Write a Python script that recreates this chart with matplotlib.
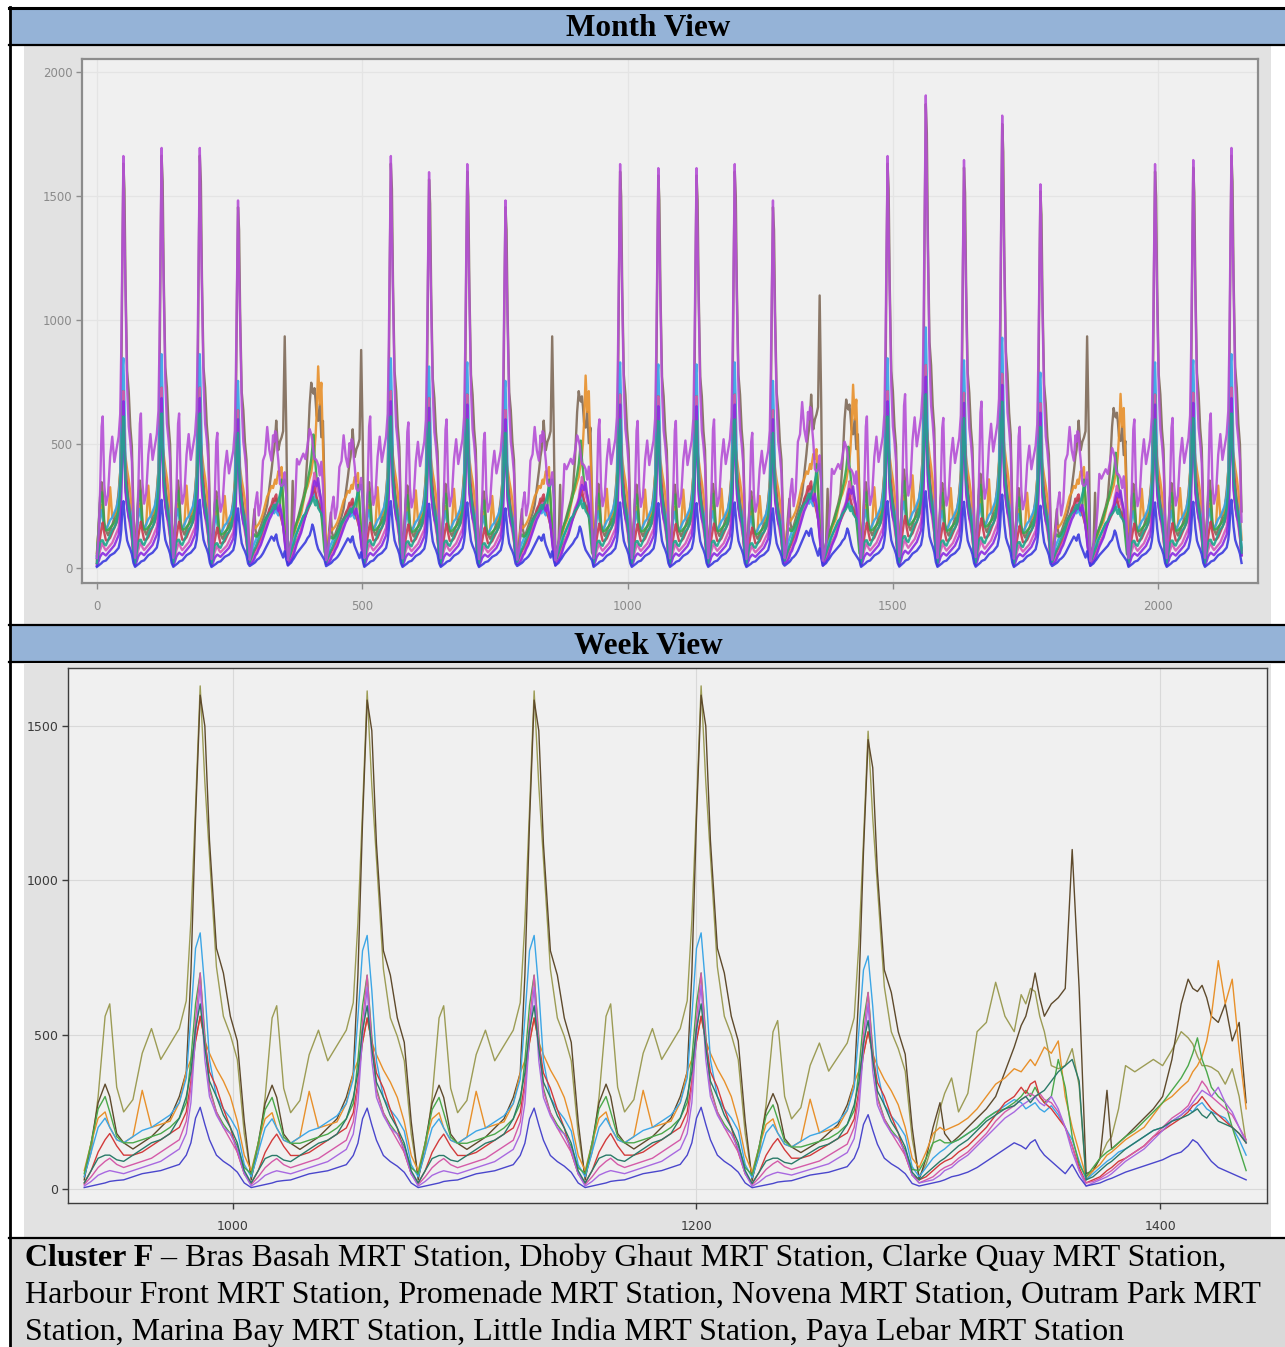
import numpy as np
import matplotlib
matplotlib.use("Agg")
import matplotlib.pyplot as plt
from matplotlib.patches import Rectangle
from matplotlib.lines import Line2D

# ---------------- data ----------------
STATIONS = ["Bras Basah", "Dhoby Ghaut", "Clarke Quay", "Harbour Front", "Promenade",
            "Novena", "Outram Park", "Marina Bay", "Little India", "Paya Lebar"]

# sample slots inside each day (72 slots of 20 minutes per day)
SLOTS = [0, 3, 6, 9, 11, 14, 17, 21, 25, 29, 33, 37, 41, 44, 46, 48, 50, 52, 54, 57, 60, 63, 66, 69]
SLOTS_PER_DAY = 72

# day kind for the 30 days (W weekday, S saturday/holiday, U sunday) and day level read from peaks
DAY_TYPE = list("WWWWSUS" + "WWWW" + "SU" + "WWWWW" + "SU" + "WWWWW" + "SU" + "WWW")
DAY_SCALE = [1.02, 1.04, 1.04, 0.91, 0.85, 1.10, 0.80, 1.02, 0.98, 1.00,
             0.91, 0.85, 1.05, 1.00, 0.99, 0.99, 1.00, 0.91, 1.00, 1.00,
             1.02, 1.17, 1.01, 1.12, 0.95, 0.85, 0.95, 1.00, 1.01, 1.04]

S1_WD = [40, 120, 300, 560, 600, 330, 250, 290, 440, 520, 420, 470, 520, 610, 870, 1240, 1630, 1320, 1080, 720, 560, 500, 420, 180]
S1_SAT = [40, 80, 150, 260, 310, 360, 250, 310, 510, 540, 670, 560, 510, 630, 600, 650, 640, 560, 510, 400, 390, 400, 455, 335]
S1_SUN = [30, 60, 100, 150, 170, 260, 400, 380, 400, 420, 400, 450, 510, 490, 470, 430, 400, 400, 395, 380, 340, 390, 300, 150]

S2_WD = [30, 150, 280, 340, 300, 180, 150, 130, 150, 170, 200, 230, 300, 380, 700, 1200, 1600, 1500, 1130, 780, 700, 560, 480, 220]
S2_SAT = [30, 100, 200, 280, 180, 150, 170, 200, 230, 260, 300, 380, 460, 530, 560, 620, 700, 620, 560, 600, 620, 650, 1100, 650]
S2_SUN = [50, 60, 100, 320, 130, 150, 170, 200, 230, 260, 300, 420, 600, 680, 650, 640, 660, 620, 560, 540, 600, 480, 540, 280]

S3_WD = [60, 150, 230, 250, 200, 160, 150, 170, 320, 200, 210, 220, 280, 380, 420, 480, 560, 480, 440, 390, 350, 300, 220, 110]
S3_SAT = [70, 120, 180, 200, 190, 200, 210, 230, 260, 300, 340, 360, 390, 380, 400, 420, 400, 430, 460, 440, 480, 300, 200, 120]
S3_SUN = [40, 60, 80, 110, 120, 140, 160, 180, 200, 240, 280, 300, 330, 350, 380, 400, 430, 480, 560, 740, 600, 680, 450, 260]

S4_WD = [40, 120, 200, 230, 200, 160, 150, 170, 190, 200, 220, 240, 280, 360, 560, 780, 830, 650, 420, 300, 260, 230, 190, 80]
S4_SAT = [40, 70, 100, 120, 130, 150, 160, 180, 200, 230, 250, 270, 290, 280, 260, 270, 280, 260, 250, 270, 240, 200, 160, 90]
S4_SUN = [30, 50, 70, 90, 100, 120, 130, 150, 170, 190, 200, 220, 240, 260, 250, 270, 280, 260, 250, 240, 230, 200, 160, 110]

S5_WD = [50, 150, 260, 300, 250, 170, 150, 150, 160, 170, 180, 200, 230, 280, 420, 600, 700, 500, 330, 250, 210, 180, 140, 70]
S5_SAT = [60, 100, 150, 160, 150, 150, 160, 180, 200, 230, 250, 260, 280, 300, 320, 300, 330, 300, 280, 300, 420, 330, 170, 80]
S5_SUN = [40, 70, 100, 120, 130, 150, 170, 190, 220, 250, 280, 320, 360, 400, 440, 490, 420, 380, 330, 300, 280, 200, 130, 60]

S6_WD = [20, 60, 120, 160, 180, 140, 110, 110, 120, 140, 160, 180, 200, 250, 350, 480, 560, 480, 380, 330, 260, 200, 120, 50]
S6_SAT = [30, 40, 60, 80, 90, 100, 120, 140, 170, 200, 240, 280, 300, 330, 310, 340, 350, 300, 280, 260, 230, 200, 140, 70]
S6_SUN = [20, 30, 40, 60, 70, 90, 100, 120, 140, 170, 190, 210, 230, 250, 270, 280, 300, 280, 260, 240, 220, 200, 180, 150]

S7_WD = [15, 40, 70, 90, 100, 80, 70, 80, 90, 100, 120, 140, 160, 220, 330, 550, 700, 480, 320, 250, 200, 160, 120, 50]
S7_SAT = [20, 30, 40, 60, 70, 80, 100, 120, 150, 180, 220, 250, 270, 290, 300, 310, 300, 310, 290, 280, 250, 200, 140, 60]
S7_SUN = [20, 25, 35, 50, 60, 80, 100, 120, 140, 170, 200, 230, 250, 270, 300, 320, 350, 330, 300, 280, 260, 240, 200, 160]

S8_WD = [10, 25, 45, 55, 60, 55, 50, 60, 70, 80, 90, 110, 130, 180, 280, 500, 660, 420, 300, 240, 200, 180, 130, 50]
S8_SAT = [20, 25, 30, 45, 60, 70, 90, 110, 140, 170, 200, 230, 250, 270, 280, 290, 300, 280, 270, 300, 260, 200, 120, 60]
S8_SUN = [10, 20, 30, 40, 50, 70, 90, 110, 130, 160, 190, 220, 240, 260, 280, 300, 320, 310, 300, 330, 280, 250, 200, 150]

S9_WD = [20, 60, 100, 110, 110, 95, 90, 110, 130, 150, 160, 180, 230, 300, 380, 520, 600, 460, 350, 300, 240, 200, 150, 60]
S9_SAT = [30, 50, 70, 90, 100, 120, 140, 160, 190, 220, 240, 260, 270, 290, 300, 280, 300, 310, 320, 350, 380, 400, 420, 350]
S9_SUN = [30, 40, 60, 80, 90, 110, 130, 150, 170, 190, 200, 220, 230, 240, 250, 260, 240, 230, 250, 220, 210, 200, 180, 150]

S10_WD = [5, 10, 15, 20, 25, 28, 30, 40, 50, 55, 60, 70, 80, 110, 150, 230, 265, 210, 160, 110, 90, 75, 55, 20]
S10_SAT = [10, 15, 20, 25, 30, 40, 45, 55, 70, 90, 110, 130, 150, 140, 130, 150, 160, 130, 110, 90, 70, 50, 80, 40]
S10_SUN = [10, 15, 20, 30, 35, 45, 55, 65, 75, 85, 95, 110, 120, 140, 160, 150, 130, 110, 90, 70, 60, 50, 40, 30]

PROFILES = [
    (S1_WD, S1_SAT, S1_SUN), (S2_WD, S2_SAT, S2_SUN), (S3_WD, S3_SAT, S3_SUN),
    (S4_WD, S4_SAT, S4_SUN), (S5_WD, S5_SAT, S5_SUN), (S6_WD, S6_SAT, S6_SUN),
    (S7_WD, S7_SAT, S7_SUN), (S8_WD, S8_SAT, S8_SUN), (S9_WD, S9_SAT, S9_SUN),
    (S10_WD, S10_SAT, S10_SUN),
]

MONTH_COLORS = ['#b54fd6', '#7f6a58', '#e8902a', '#33a4e8', '#37a64a',
                '#c83a50', '#d657b8', '#8a2be2', '#1fa58c', '#3a3adf']
WEEK_COLORS = ['#9c9c55', '#5e4a2c', '#e8902a', '#3ca6e6', '#4aa84a',
               '#d23a3a', '#d45aa8', '#a868e0', '#2a7a68', '#4a46cc']

MONTH_XTICKS = [0, 500, 1000, 1500, 2000]
MONTH_YTICKS = [0, 500, 1000, 1500, 2000]
WEEK_XTICKS = [1000, 1200, 1400]
WEEK_YTICKS = [0, 500, 1000, 1500]
WEEK_DAYS = (13, 20)

CAPTION_BOLD = "Cluster F"
CAPTION_LINES = [
    " \u2013 Bras Basah MRT Station, Dhoby Ghaut MRT Station, Clarke Quay MRT Station,",
    "Harbour Front MRT Station, Promenade MRT Station, Novena MRT Station, Outram Park MRT",
    "Station, Marina Bay MRT Station, Little India MRT Station, Paya Lebar MRT Station",
]


def build_series(profile):
    xs, ys = [], []
    slots = np.array(SLOTS)
    for d, (kind, sc) in enumerate(zip(DAY_TYPE, DAY_SCALE)):
        prof = {'W': profile[0], 'S': profile[1], 'U': profile[2]}[kind]
        xs.append(d * SLOTS_PER_DAY + slots)
        ys.append(np.array(prof, dtype=float) * sc)
    return np.concatenate(xs), np.concatenate(ys)


SERIES = [build_series(p) for p in PROFILES]

# ---------------- figure ----------------
W, H = 1285, 1347
fig = plt.figure(figsize=(W / 100, H / 100), dpi=100)
fig.patch.set_facecolor('white')


def rect(x0, y0, x1, y1, color, z=-2):
    fig.add_artist(Rectangle((x0 / W, 1 - y1 / H), (x1 - x0) / W, (y1 - y0) / H,
                             transform=fig.transFigure, facecolor=color,
                             edgecolor='none', zorder=z))


def hline(y, x0, x1, lw=1.6):
    fig.add_artist(Line2D([x0 / W, x1 / W], [1 - y / H, 1 - y / H], color='black',
                          lw=lw, transform=fig.transFigure, zorder=5))


def vline(x, y0, y1, lw=1.6):
    fig.add_artist(Line2D([x / W, x / W], [1 - y0 / H, 1 - y1 / H], color='black',
                          lw=lw, transform=fig.transFigure, zorder=5))


def axes_px(x0, y0, x1, y1):
    return fig.add_axes([x0 / W, 1 - y1 / H, (x1 - x0) / W, (y1 - y0) / H])


BLUE = '#95b3d7'
rect(10, 8, W, 44, BLUE)
rect(10, 626, W, 662, BLUE)
rect(24, 46, 1271, 624, '#e2e2e2')
rect(24, 664, 1271, 1237, '#e2e2e2')
rect(11, 1239, W, H, '#d9d9d9')

hline(8, 9, W, lw=2.2)
hline(45, 9, W)
hline(625, 9, W)
hline(662, 9, W)
hline(1238, 9, W)
vline(10, 7, H, lw=2.0)

hdr = dict(family='Liberation Serif', fontweight='bold', fontsize=22.5,
           ha='center', va='center', color='black', zorder=6)
fig.text(648 / W, 1 - 29 / H, "Month View", **hdr)
fig.text(648 / W, 1 - 647 / H, "Week View", **hdr)

# ---- month view ----
ax1 = axes_px(82, 59, 1258, 583)
ax1.set_facecolor('#f0f0f0')
order = [1, 2, 3, 4, 5, 6, 7, 8, 9, 0]
for i in order:
    x, y = SERIES[i]
    ax1.plot(x, y, color=MONTH_COLORS[i], lw=1.7, alpha=0.9, solid_joinstyle='round')
ax1.set_xlim(-28, 2188)
ax1.set_ylim(-60, 2054)
ax1.set_xticks(MONTH_XTICKS)
ax1.set_yticks(MONTH_YTICKS)
ax1.grid(True, color='#e4e4e4', lw=0.9)
ax1.set_axisbelow(True)
for s in ax1.spines.values():
    s.set_color('#8c8c8c')
    s.set_linewidth(1.6)
ax1.tick_params(direction='out', length=4, width=1, color='#8c8c8c',
                labelcolor='#8a8a8a', labelsize=8.5)
ax1.tick_params(axis='x', pad=8)
ax1.tick_params(axis='y', pad=3)

# ---- week view ----
ax2 = axes_px(68, 668, 1267, 1203)
ax2.set_facecolor('#f0f0f0')
lo, hi = WEEK_DAYS[0] * SLOTS_PER_DAY, WEEK_DAYS[1] * SLOTS_PER_DAY
for i in range(10):
    x, y = SERIES[i]
    m = (x >= lo) & (x < hi)
    ax2.plot(x[m], y[m], color=WEEK_COLORS[i], lw=1.0)
ax2.set_xlim(929, 1446)
ax2.set_ylim(-45, 1688)
ax2.set_xticks(WEEK_XTICKS)
ax2.set_yticks(WEEK_YTICKS)
ax2.grid(True, color='#d9d9d9', lw=0.8)
ax2.set_axisbelow(True)
for s in ax2.spines.values():
    s.set_color('#3c3c3c')
    s.set_linewidth(1.0)
ax2.tick_params(direction='out', length=4, width=1, color='#3c3c3c',
                labelcolor='#3a3a3a', labelsize=9)
ax2.tick_params(axis='x', pad=8)
ax2.tick_params(axis='y', pad=3)

# ---- caption ----
cap = dict(family='Liberation Serif', fontsize=23, color='black', va='baseline', ha='left')
tb = fig.text(25 / W, 1 - 1266 / H, CAPTION_BOLD, fontweight='bold', **cap)
fig.canvas.draw()
bb = tb.get_window_extent()
fig.text(bb.x1 / W, 1 - 1266 / H, CAPTION_LINES[0], **cap)
fig.text(25 / W, 1 - 1303 / H, CAPTION_LINES[1], **cap)
fig.text(25 / W, 1 - 1340 / H, CAPTION_LINES[2], **cap)

fig.savefig('out.png', dpi=100, facecolor='white')
